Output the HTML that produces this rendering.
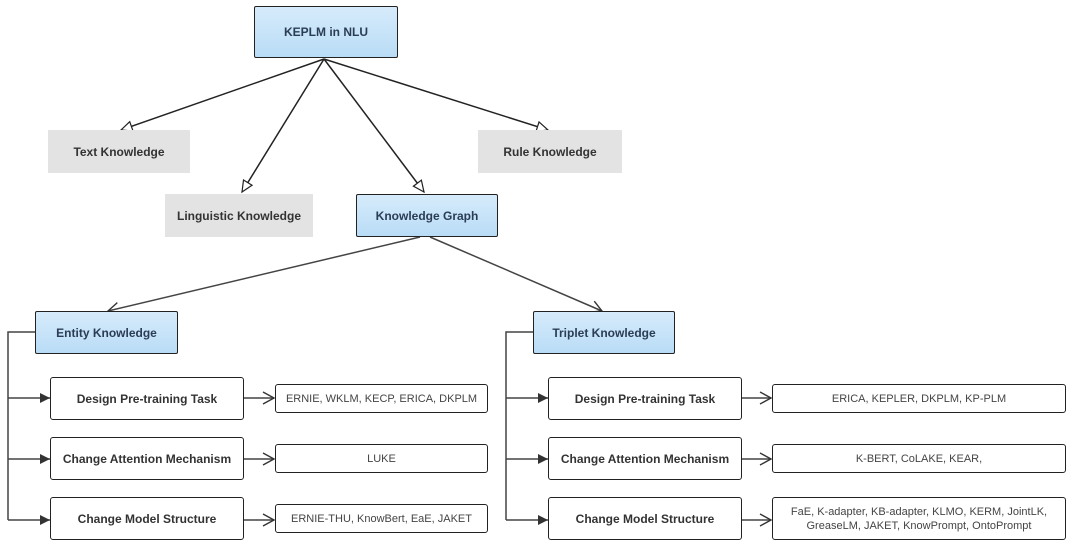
<!DOCTYPE html>
<html><head><meta charset="utf-8"><style>
body{margin:0;background:#fff;width:1080px;height:553px;overflow:hidden;font-family:"Liberation Sans","DejaVu Sans",sans-serif}
.b{position:absolute;box-sizing:border-box;display:flex;align-items:center;justify-content:center;text-align:center;font-size:12px;font-weight:bold;color:#333}
.blue{background:linear-gradient(#d6ebfb,#b9dcf6);border:1.5px solid #222;border-radius:2px;color:#2b3d55}
.gray{background:#e3e3e3;color:#333}
.w{background:#fff;border:1.5px solid #222;border-radius:3px}
.v{background:#fff;border:1.5px solid #222;border-radius:3px;font-weight:normal;font-size:11px;color:#444;line-height:14px}
</style></head><body>
<svg width="1080" height="553" style="position:absolute;left:0;top:0">
<defs>
<marker id="tri" markerWidth="14" markerHeight="12" refX="12" refY="6" orient="auto" markerUnits="userSpaceOnUse"><path d="M1,1 L12,6 L1,11 Z" fill="#fff" stroke="#222" stroke-width="1.2"/></marker>
<marker id="open" markerWidth="14" markerHeight="14" refX="12" refY="7" orient="auto" markerUnits="userSpaceOnUse"><path d="M1,1 L12,7 L1,13" fill="none" stroke="#333" stroke-width="1.4"/></marker>
<marker id="fill" markerWidth="12" markerHeight="10" refX="10" refY="5" orient="auto" markerUnits="userSpaceOnUse"><path d="M0,0 L10,5 L0,10 Z" fill="#333"/></marker>
</defs>
<g stroke="#222" stroke-width="1.5" fill="none">
<line x1="324" y1="59" x2="121" y2="130" marker-end="url(#tri)"/>
<line x1="324" y1="59" x2="242" y2="192" marker-end="url(#tri)"/>
<line x1="324" y1="59" x2="424" y2="192" marker-end="url(#tri)"/>
<line x1="324" y1="59" x2="548" y2="130" marker-end="url(#tri)"/>
</g>
<g stroke="#444" stroke-width="1.5" fill="none">
<line x1="420" y1="237" x2="108" y2="311" marker-end="url(#open)"/>
<line x1="430" y1="237" x2="602" y2="311" marker-end="url(#open)"/>
<path d="M35,332 H8 V520"/>
<path d="M533,332 H506 V520"/>
<line x1="8" y1="398" x2="50" y2="398" marker-end="url(#fill)"/>
<line x1="8" y1="459" x2="50" y2="459" marker-end="url(#fill)"/>
<line x1="8" y1="520" x2="50" y2="520" marker-end="url(#fill)"/>
<line x1="506" y1="398" x2="548" y2="398" marker-end="url(#fill)"/>
<line x1="506" y1="459" x2="548" y2="459" marker-end="url(#fill)"/>
<line x1="506" y1="520" x2="548" y2="520" marker-end="url(#fill)"/>
<line x1="243" y1="398" x2="274" y2="398" marker-end="url(#open)"/>
<line x1="243" y1="459" x2="274" y2="459" marker-end="url(#open)"/>
<line x1="243" y1="520" x2="274" y2="520" marker-end="url(#open)"/>
<line x1="741" y1="398" x2="771" y2="398" marker-end="url(#open)"/>
<line x1="741" y1="459" x2="771" y2="459" marker-end="url(#open)"/>
<line x1="741" y1="520" x2="771" y2="520" marker-end="url(#open)"/>
</g>
</svg>
<div class="b blue" style="left:254px;top:6px;width:144px;height:52px">KEPLM in NLU</div>
<div class="b gray" style="left:48px;top:130px;width:142px;height:43px">Text Knowledge</div>
<div class="b gray" style="left:478px;top:130px;width:144px;height:43px">Rule Knowledge</div>
<div class="b gray" style="left:165px;top:194px;width:148px;height:43px">Linguistic Knowledge</div>
<div class="b blue" style="left:356px;top:194px;width:142px;height:43px">Knowledge Graph</div>
<div class="b blue" style="left:35px;top:311px;width:143px;height:43px">Entity Knowledge</div>
<div class="b blue" style="left:533px;top:311px;width:142px;height:43px">Triplet Knowledge</div>
<div class="b w" style="left:50px;top:377px;width:194px;height:43px">Design Pre-training Task</div>
<div class="b w" style="left:50px;top:437px;width:194px;height:43px">Change Attention Mechanism</div>
<div class="b w" style="left:50px;top:497px;width:194px;height:43px">Change Model Structure</div>
<div class="b v" style="left:275px;top:384px;width:213px;height:29px">ERNIE, WKLM, KECP, ERICA, DKPLM</div>
<div class="b v" style="left:275px;top:444px;width:213px;height:29px">LUKE</div>
<div class="b v" style="left:275px;top:504px;width:213px;height:29px">ERNIE-THU, KnowBert, EaE, JAKET</div>
<div class="b w" style="left:548px;top:377px;width:194px;height:43px">Design Pre-training Task</div>
<div class="b w" style="left:548px;top:437px;width:194px;height:43px">Change Attention Mechanism</div>
<div class="b w" style="left:548px;top:497px;width:194px;height:43px">Change Model Structure</div>
<div class="b v" style="left:772px;top:384px;width:294px;height:29px">ERICA, KEPLER, DKPLM, KP-PLM</div>
<div class="b v" style="left:772px;top:444px;width:294px;height:29px">K-BERT, CoLAKE, KEAR,</div>
<div class="b v" style="left:772px;top:497px;width:294px;height:43px">FaE, K-adapter, KB-adapter, KLMO, KERM, JointLK,<br>GreaseLM, JAKET, KnowPrompt, OntoPrompt</div>
</body></html>
